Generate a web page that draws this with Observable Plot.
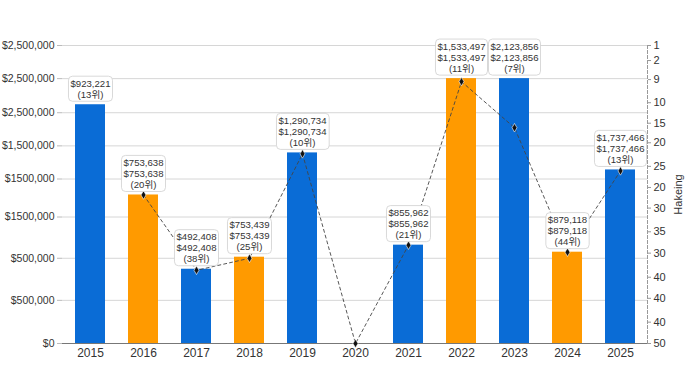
<!DOCTYPE html>
<html>
<head>
<meta charset="utf-8">
<script src="https://cdn.jsdelivr.net/npm/d3@7"></script>
<script src="https://cdn.jsdelivr.net/npm/@observablehq/plot@0.6"></script>
<style>
  html, body { margin: 0; padding: 0; background: #fff; }
</style>
</head>
<body>
<script>
const years = ["2015","2016","2017","2018","2019","2020","2021","2022","2023","2024","2025"];
// bar heights as drawn in the picture (left-axis units)
const barValues = [2003000, 1246000, 623000, 724000, 1599000, null, 825000, 2222000, 2222000, 766000, 1456000];
// rank line points as drawn in the picture (same vertical units)
const rankPointValues = [null, 1246000, 614000, 715000, 1591000, 0, 825000, 2197000, 1810000, 766000, 1448000];
// label values
const revenue = [923221, 753638, 492408, 753439, 1290734, null, 855962, 1533497, 2123856, 879118, 1737466];
const ranks = [13, 20, 38, 25, 10, null, 21, 11, 7, 44, 13];
const valueRepeats = [1, 2, 2, 2, 2, 0, 2, 2, 2, 2, 2];

const leftTickValues = [0, 362000, 715000, 1061000, 1380000, 1658000, 1936000, 2222000, 2500000];
const leftTickLabels = ["$0", "$500,000", "$500,000", "$1500,000", "$1500,000", "$1,500,000", "$2,500,000", "$2,500,000", "$2,500,000"];

const rightTickValues = [0, 179000, 379000, 556000, 758000, 937000, 1136000, 1309000, 1486000, 1684000, 1848000, 2020000, 2214000, 2374000, 2500000];
const rightTickLabels = ["50", "40", "40", "40", "30", "35", "30", "20", "25", "20", "15", "10", "9", "2", "1"];

const blue = "#0a6cd6";
const orange = "#ff9a00";

const leftMap = new Map(leftTickValues.map((v, i) => [v, leftTickLabels[i]]));
const rightMap = new Map(rightTickValues.map((v, i) => [v, rightTickLabels[i]]));
const fmt = d3.format("$,");

const data = years.map((year, i) => ({
  year, bar: barValues[i], point: rankPointValues[i],
  revenue: revenue[i], rank: ranks[i], rep: valueRepeats[i]
}));

const labelText = d => Array(d.rep).fill(fmt(d.revenue)).concat(`(${d.rank}위)`).join("\n");

const chart = Plot.plot({
  width: 700,
  height: 382,
  marginTop: 45,
  marginBottom: 39,
  marginLeft: 62,
  marginRight: 53,
  style: {
    fontFamily: "'Liberation Sans', Arial, 'Noto Sans CJK KR', sans-serif",
    fontSize: "11px",
    color: "#333",
    background: "white"
  },
  x: { domain: years, paddingInner: 0.44, paddingOuter: 0.22, label: null },
  y: { domain: [0, 2500000], label: null },
  marks: [
    Plot.gridY(leftTickValues, { stroke: "#d6d6d6", strokeOpacity: 1 }),
    Plot.barY(data.filter(d => d.bar != null), {
      x: "year", y: "bar",
      fill: d => (+d.year % 2 ? blue : orange)
    }),
    Plot.ruleY([0], { stroke: "#777" }),
    Plot.frame({ anchor: "right", stroke: "#999", strokeDasharray: "3,2" }),
    Plot.line(data, { x: "year", y: "point", stroke: "#444", strokeDasharray: "3,3", strokeWidth: 0.9 }),
    Plot.dot(data.filter(d => d.point != null), {
      x: "year", y: "point", symbol: "diamond", r: 2.6, fill: "#111", stroke: "white", strokeWidth: 0.6
    }),
    Plot.text(data.filter(d => d.rep > 0), {
      x: "year", y: "bar", text: labelText,
      lineAnchor: "bottom", dy: -7, fontSize: 9.6, lineHeight: 1.15, fill: "#333"
    }),
    Plot.axisX({ tickSize: 0, tickPadding: 5, fontSize: 12, label: null }),
    Plot.axisY({
      ticks: leftTickValues, tickFormat: d => leftMap.get(d),
      tickSize: 5, tickPadding: 3, stroke: "#bbb", fill: "#333", label: null, fontSize: 10.5
    }),
    Plot.axisY({
      anchor: "right", ticks: rightTickValues, tickFormat: d => rightMap.get(d),
      tickSize: 3, tickPadding: 3, stroke: "#999", fill: "#333", fontSize: 11,
      label: "Hakeing", labelAnchor: "center", labelArrow: "none", labelOffset: 34
    })
  ]
});

document.body.appendChild(chart);

// draw rounded boxes behind the value labels
const ns = "http://www.w3.org/2000/svg";
chart.querySelectorAll('g[aria-label="text"] text').forEach(t => {
  const b = t.getBBox();
  const r = document.createElementNS(ns, "rect");
  r.setAttribute("x", b.x - 2);
  r.setAttribute("y", b.y - 1.5);
  r.setAttribute("width", b.width + 4);
  r.setAttribute("height", b.height + 3);
  r.setAttribute("rx", 4);
  r.setAttribute("fill", "white");
  r.setAttribute("stroke", "#cfcfcf");
  r.setAttribute("stroke-width", 0.8);
  if (t.getAttribute("transform")) r.setAttribute("transform", t.getAttribute("transform"));
  t.parentNode.insertBefore(r, t);
});
</script>
</body>
</html>
